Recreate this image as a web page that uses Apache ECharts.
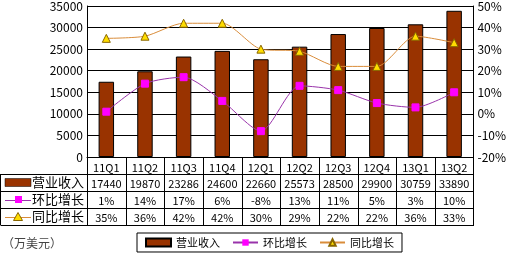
<!DOCTYPE html>
<html><head><meta charset="utf-8">
<script src="https://cdn.jsdelivr.net/npm/echarts@6/dist/echarts.min.js"></script>
<style>html,body{margin:0;padding:0;background:#fff}#c{width:509px;height:256px}</style>
</head><body><div id="c"></div>
<script>
const categories=['11Q1','11Q2','11Q3','11Q4','12Q1','12Q2','12Q3','12Q4','13Q1','13Q2'];
const revenue=[17440,19870,23286,24600,22660,25573,28500,29900,30759,33890];
const qoq=[1,14,17,6,-8,13,11,5,3,10];
const yoy=[35,36,42,42,30,29,22,22,36,33];
const seriesNames=['营业收入','环比增长','同比增长'];
const unitLabel='（万美元）';

const FONT='"Noto Sans CJK SC", sans-serif';
const barColor='#993300', qoqLine='#9933aa', qoqMark='#ff00ff', yoyLine='#d98c3a', yoyMark='#ffdd00';

const chart=echarts.init(document.getElementById('c'),null,{renderer:'canvas'});
const G={left:87,right:35,top:6,bottom:99};
chart.setOption({
  animation:false,
  grid:{left:G.left,right:G.right,top:G.top,bottom:G.bottom,show:false},
  legend:{left:137,top:233,itemGap:12,padding:[4,8,4,8],borderColor:'#000',borderWidth:1,
    itemWidth:25,itemHeight:8,textStyle:{fontFamily:FONT,fontSize:11,color:'#000'},
    data:[{name:seriesNames[0],icon:'rect'},{name:seriesNames[1]},{name:seriesNames[2]}]},
  xAxis:{type:'category',data:categories,axisLine:{lineStyle:{color:'#000'}},axisTick:{show:false},
    axisLabel:{fontFamily:FONT,fontSize:11,color:'#000',margin:5}},
  yAxis:[
    {type:'value',min:0,max:35000,interval:5000,axisLine:{show:true,lineStyle:{color:'#000'}},axisTick:{show:false},
     splitLine:{lineStyle:{color:'#000',width:1}},axisLabel:{fontFamily:FONT,fontSize:12,color:'#000',margin:4,formatter:v=>String(v)}},
    {type:'value',min:-20,max:50,interval:10,axisLine:{show:true,lineStyle:{color:'#000'}},axisTick:{show:false},
     splitLine:{show:false},axisLabel:{fontFamily:FONT,fontSize:12,color:'#000',margin:4,formatter:'{value}%'}}
  ],
  series:[
    {name:seriesNames[0],type:'bar',data:revenue,barWidth:'40%',itemStyle:{color:barColor,borderColor:'#000',borderWidth:1},z:2},
    {name:seriesNames[1],type:'line',yAxisIndex:1,data:qoq,smooth:0.25,symbol:'rect',symbolSize:7,
     lineStyle:{color:qoqLine,width:1},itemStyle:{color:qoqMark,borderColor:qoqMark},z:4},
    {name:seriesNames[2],type:'line',yAxisIndex:1,data:yoy,smooth:0.25,symbol:'triangle',symbolSize:8,
     lineStyle:{color:yoyLine,width:1},itemStyle:{color:yoyMark,borderColor:'#886600',borderWidth:1},z:4}
  ]
});

// data table below the axis
const x0=chart.convertToPixel({xAxisIndex:0},0);
const x1=chart.convertToPixel({xAxisIndex:0},1);
const band=x1-x0;
const leftX=G.left, rightX=509-G.right;
const baseY=chart.convertToPixel({yAxisIndex:0},0);
const rowH=17;
const rows=[revenue.map(String),qoq.map(v=>v+'%'),yoy.map(v=>v+'%')];
const els=[];
const line=(a,b,c,d,col)=>els.push({type:'line',shape:{x1:a,y1:b,x2:c,y2:d},style:{stroke:col||'#000',lineWidth:1},silent:true});
const yTop=baseY, yBody=baseY+rowH, yEnd=baseY+rowH*4;
for(let r=1;r<=4;r++) line(0.5,Math.round(baseY+rowH*r)+0.5,rightX,Math.round(baseY+rowH*r)+0.5);
line(0.5,yBody,0.5,yEnd);
for(let i=0;i<=categories.length;i++){const x=Math.round(leftX+band*i)+0.5;line(x,yTop,x,yEnd);}
rows.forEach((row,r)=>{
  row.forEach((t,i)=>{
    els.push({type:'text',style:{text:t,x:leftX+band*(i+0.5),y:yBody+rowH*r+rowH/2+1,align:'center',verticalAlign:'middle',
      fontFamily:FONT,fontSize:11,fill:'#000'},silent:true});
  });
  els.push({type:'text',style:{text:seriesNames[r],x:32,y:yBody+rowH*r+rowH/2,align:'left',verticalAlign:'middle',
    fontFamily:FONT,fontSize:13,fill:'#000'},silent:true});
});
// table legend keys
const ky=(r)=>yBody+rowH*r+rowH/2;
els.push({type:'rect',shape:{x:5,y:ky(0)-4,width:26,height:8},style:{fill:barColor,stroke:'#000',lineWidth:0.5}});
line(5,Math.round(ky(1))+0.5,31,Math.round(ky(1))+0.5,qoqLine);
els.push({type:'rect',shape:{x:15,y:ky(1)-3.5,width:7,height:7},style:{fill:qoqMark}});
line(5,Math.round(ky(2))+0.5,31,Math.round(ky(2))+0.5,yoyLine);
els.push({type:'polygon',shape:{points:[[18,ky(2)-4],[22.5,ky(2)+4],[13.5,ky(2)+4]]},style:{fill:yoyMark,stroke:'#886600',lineWidth:1}});
els.push({type:'text',style:{text:unitLabel,x:2,y:243,verticalAlign:'middle',fontFamily:FONT,fontSize:12,fill:'#444'}});
chart.setOption({graphic:{elements:els}});
</script></body></html>
